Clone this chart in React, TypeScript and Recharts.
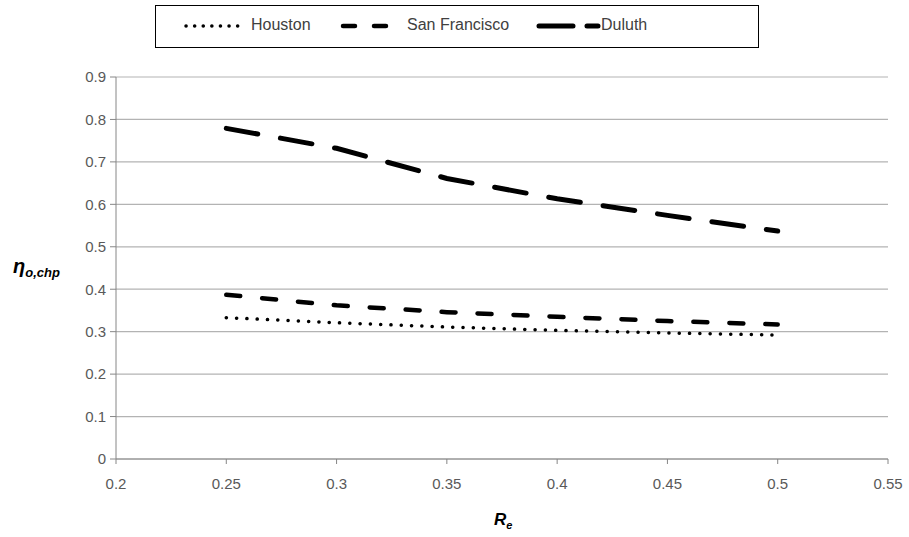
import React from 'react'
import { LineChart, Line, XAxis, YAxis, CartesianGrid } from 'recharts'

// R_e values and efficiency per city
const rValues = [0.25, 0.3, 0.35, 0.4, 0.45, 0.5]
const houston = [0.333, 0.321, 0.311, 0.303, 0.297, 0.292]
const sanFrancisco = [0.387, 0.362, 0.346, 0.335, 0.325, 0.317]
const duluth = [0.779, 0.732, 0.661, 0.613, 0.574, 0.537]

const xTicks = [0.2, 0.25, 0.3, 0.35, 0.4, 0.45, 0.5, 0.55]
const yTicks = [0, 0.1, 0.2, 0.3, 0.4, 0.5, 0.6, 0.7, 0.8, 0.9]

const series = [
  { key: 'houston', name: 'Houston', dash: '0.1 10.2', width: 3.5 },
  { key: 'sanFrancisco', name: 'San Francisco', dash: '14 22', width: 4.5 },
  { key: 'duluth', name: 'Duluth', dash: '32 23', width: 5 },
]

const chartData = rValues.map((r, i) => ({
  r,
  houston: houston[i],
  sanFrancisco: sanFrancisco[i],
  duluth: duluth[i],
}))

const font = '"Liberation Sans", Arial, sans-serif'
const tickStyle = { fontSize: 15, fill: '#595959', fontFamily: font }

const YLabel = ({ viewBox }: any) => {
  const y = viewBox.y + viewBox.height / 2 + 5
  return (
    <text x={13} y={y} fontFamily={font} fontWeight="bold" fontStyle="italic" fill="#000">
      <tspan fontSize={20}>η</tspan>
      <tspan fontSize={13} dy={4}>o,chp</tspan>
    </text>
  )
}

const XLabel = ({ viewBox }: any) => {
  const x = viewBox.x + viewBox.width / 2
  return (
    <text x={x - 8} y={viewBox.y + 66} fontFamily={font} fontWeight="bold" fontStyle="italic" fill="#000">
      <tspan fontSize={17}>R</tspan>
      <tspan fontSize={11} dy={4}>e</tspan>
    </text>
  )
}

const LegendBox = () => (
  <div
    style={{
      position: 'absolute',
      left: 155,
      top: 5,
      width: 602,
      height: 41,
      border: '1px solid #000',
      background: '#fff',
      fontFamily: font,
      fontSize: 16,
      color: '#404040',
    }}
  >
    {series.map((s, i) => {
      const pos = [
        { sx: 27, sw: 58, tx: 95 },
        { sx: 184, sw: 50, tx: 251 },
        { sx: 380, sw: 62, tx: 445 },
      ][i]
      return (
        <React.Fragment key={s.key}>
          <svg style={{ position: 'absolute', left: pos.sx, top: 13 }} width={pos.sw + 6} height={14}>
            <line
              x1={3}
              x2={pos.sw}
              y1={7}
              y2={7}
              stroke="#000"
              strokeWidth={s.width}
              strokeDasharray={i === 0 ? '0.1 8.5' : i === 1 ? '12 19' : '34 14'}
              strokeLinecap="round"
            />
          </svg>
          <span style={{ position: 'absolute', left: pos.tx, top: 10 }}>{s.name}</span>
        </React.Fragment>
      )
    })}
  </div>
)

export default function App() {
  return (
    <div style={{ position: 'absolute', left: 0, top: 0, width: 909, height: 537, background: '#fff' }}>
      <LineChart
        width={909}
        height={537}
        data={chartData}
        margin={{ top: 77, right: 21, bottom: 0, left: 0 }}
      >
        <CartesianGrid vertical={false} stroke="#b3b3b3" strokeWidth={1.2} />
        <XAxis
          dataKey="r"
          type="number"
          domain={[0.2, 0.55]}
          ticks={xTicks}
          tick={tickStyle}
          tickSize={5}
          tickMargin={14}
          stroke="#868686"
          height={78}
          label={<XLabel />}
        />
        <YAxis
          type="number"
          domain={[0, 0.9]}
          ticks={yTicks}
          tick={tickStyle}
          tickSize={6}
          tickMargin={4}
          stroke="#868686"
          width={116}
          label={<YLabel />}
        />
        {series.map(s => (
          <Line
            key={s.key}
            dataKey={s.key}
            name={s.name}
            type="linear"
            stroke="#000"
            strokeWidth={s.width}
            strokeDasharray={s.dash}
            strokeLinecap="round"
            dot={false}
            activeDot={false}
            isAnimationActive={false}
          />
        ))}
      </LineChart>
      <LegendBox />
    </div>
  )
}
